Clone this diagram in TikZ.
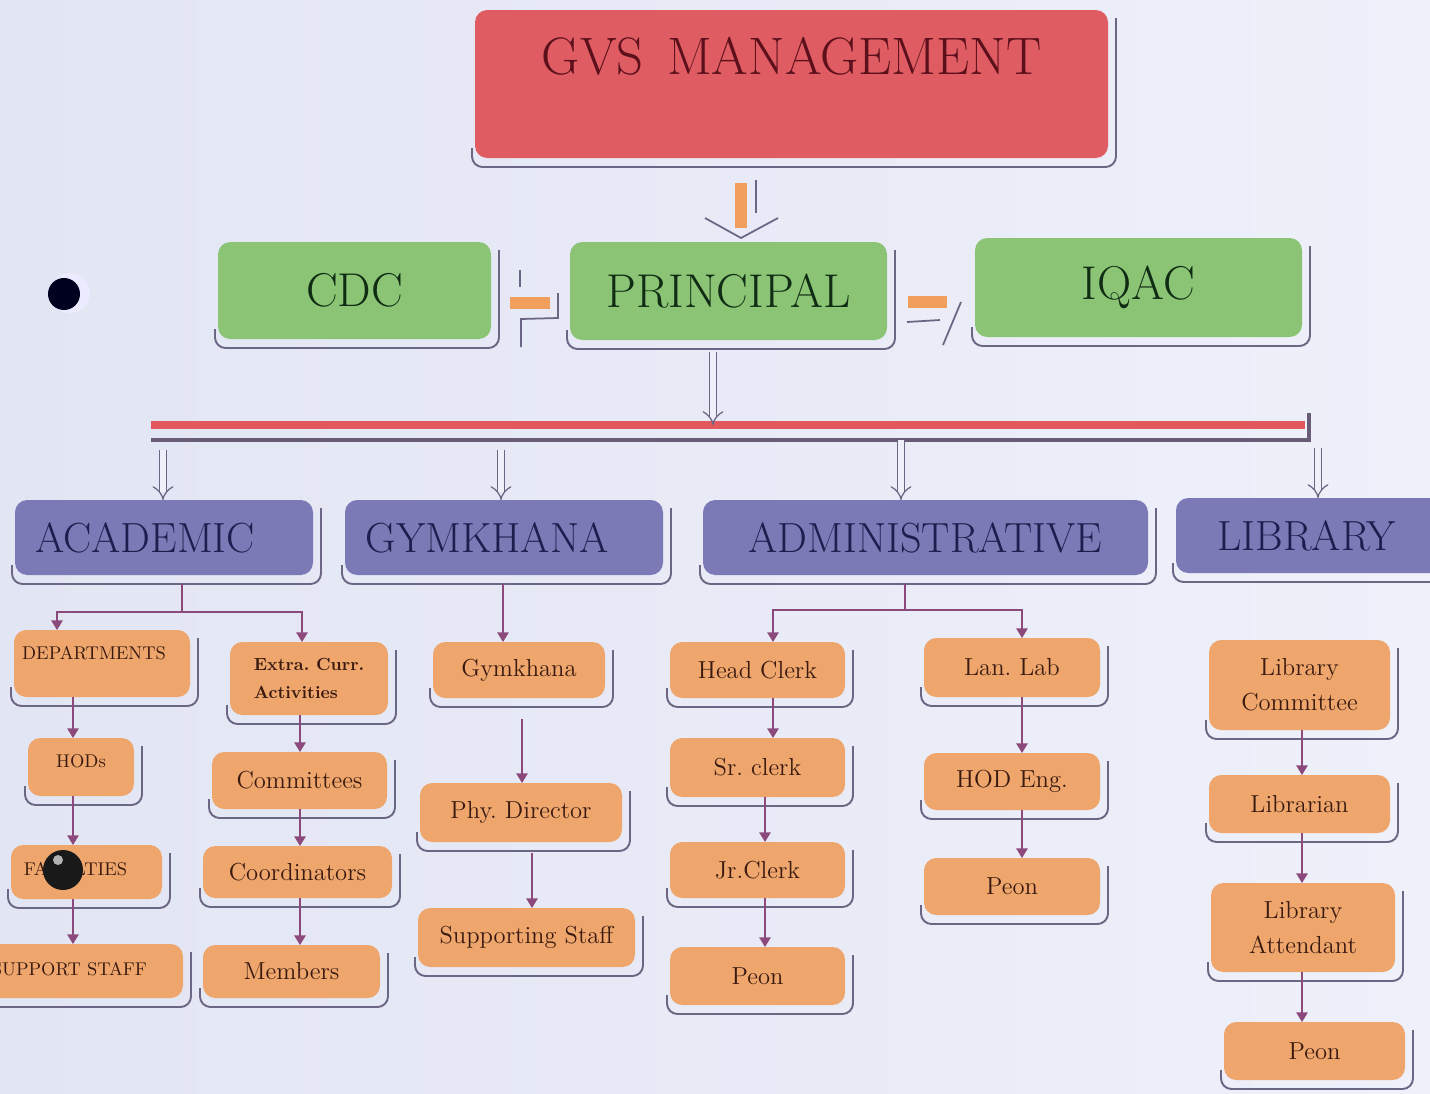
\documentclass[tikz,border=0pt]{standalone}
\usepackage{tikz}
\usetikzlibrary{arrows.meta}

\definecolor{paperL}{RGB}{226,229,243}
\definecolor{paperR}{RGB}{238,240,250}
\definecolor{mgmtred}{RGB}{222,92,98}
\definecolor{mgmttext}{RGB}{92,16,28}
\definecolor{headgreen}{RGB}{138,196,116}
\definecolor{greentext}{RGB}{16,44,20}
\definecolor{wingpurple}{RGB}{124,122,182}
\definecolor{purpletext}{RGB}{28,30,78}
\definecolor{postorange}{RGB}{238,166,108}
\definecolor{orangetext}{RGB}{58,26,16}
\definecolor{rimgray}{RGB}{106,102,132}
\definecolor{linkmauve}{RGB}{140,74,124}
\definecolor{busred}{RGB}{226,88,92}
\definecolor{busgray}{RGB}{104,92,118}
\definecolor{arrorange}{RGB}{240,160,92}

% rim line under and right of a box
\newcommand\rimbox[1]{%
  \draw[rim] ([shift={(-3,-10)}]#1.south west) -- ([shift={(-3,9)}]#1.south west)
    -- ([shift={(8,9)}]#1.south east) -- ([shift={(8,8)}]#1.north east);}

\begin{document}
\frenchspacing
\begin{tikzpicture}[x=0.02cm, y=-0.02cm,
  spanxy/.style n args={4}{minimum width={(#3-(#1))*0.02cm},
    minimum height={(#4-(#2))*0.02cm}, at={({(#1+#3)/2},{(#2+#4)/2})}},
  box/.style={rounded corners=7pt, inner sep=0pt, outer sep=0pt},
  mgmt/.style={box, fill=mgmtred},
  mgmtlabel/.style={text=mgmttext, font=\fontsize{30}{32}\selectfont},
  head/.style={box, fill=headgreen, text=greentext, font=\fontsize{27}{30}\selectfont},
  wing/.style={box, fill=wingpurple, text=purpletext, font=\fontsize{24}{26}\selectfont},
  winglabel/.style={text=purpletext, font=\fontsize{24}{26}\selectfont},
  post/.style={box, fill=postorange, text=orangetext, font=\fontsize{14}{20}\selectfont, align=center},
  postcaps/.style={box, fill=postorange, text=orangetext, font=\fontsize{10.5}{12}\selectfont},
  capslabel/.style={text=orangetext, font=\fontsize{10.5}{12}\selectfont},
  postbold/.style={box, fill=postorange, text=orangetext, font=\fontsize{10}{16}\selectfont\bfseries, align=left},
  rim/.style={draw=rimgray, line width=1.1pt, rounded corners=6pt},
  link/.style={draw=linkmauve, line width=0.9pt, -{Triangle[width=6.5pt,length=5.5pt]}},
  fork/.style={draw=linkmauve, line width=0.9pt},
  drop/.style={draw=rimgray, double=paperR, double distance=3.5pt, line width=0.7pt, -{Implies}},
  fatbar/.style={draw=arrorange, line width=7pt},
  thin/.style={draw=rimgray, line width=1pt}]

\shade[left color=paperL, right color=paperR] (0,0) rectangle (1430,1093);
\useasboundingbox (0,0) rectangle (1430,1093);

% top
\node[mgmt, spanxy={475}{10}{1108}{158},
  label={[mgmtlabel, shift={(0,-28)}]center:GVS\hskip0.45em MANAGEMENT}] (mgmt) {};
\node[head, spanxy={218}{242}{491}{339}] (cdc) {CDC};
\node[head, spanxy={570}{242}{887}{340}] (principal) {PRINCIPAL};
\node[head, spanxy={975}{238}{1302}{337}] (iqac) {IQAC};

% wings
\node[wing, spanxy={15}{500}{313}{575},
  label={[winglabel, shift={(-19,0)}]center:ACADEMIC}] (acad) {};
\node[wing, spanxy={345}{500}{663}{575},
  label={[winglabel, shift={(-17,0)}]center:GYMKHANA}] (gymk) {};
\node[wing, spanxy={703}{500}{1148}{575}] (admin) {ADMINISTRATIVE};
\node[wing, spanxy={1176}{498}{1445}{573},
  label={[winglabel, shift={(-4,0)}]center:LIBRARY}] (lib) {};

% academic
\node[postcaps, spanxy={14}{630}{190}{697},
  label={[capslabel, shift={(-8,-10)}]center:DEPARTMENTS}] (dept) {};
\node[postcaps, spanxy={28}{738}{134}{796},
  label={[capslabel, shift={(0,-6)}]center:HODs}] (hods) {};
\node[postcaps, spanxy={11}{845}{162}{899},
  label={[capslabel, shift={(-11,-3)}]center:FACULTIES}] (fac) {};
\node[postcaps, spanxy={-32}{944}{183}{998},
  label={[capslabel, shift={(-6,-2)}]center:SUPPORT STAFF}] (supp) {};
\node[postbold, spanxy={230}{642}{388}{715}] (extra) {Extra. Curr.\\Activities};
\node[post, spanxy={212}{752}{387}{809}] (comm) {Committees};
\node[post, spanxy={203}{846}{392}{898}] (coord) {Coordinators};
\node[post, spanxy={203}{945}{380}{998}] (memb) {Members};

% gymkhana
\node[post, spanxy={433}{642}{605}{698}] (gym) {Gymkhana};
\node[post, spanxy={420}{783}{622}{842}] (phy) {Phy. Director};
\node[post, spanxy={418}{908}{635}{967}] (supstaff) {Supporting Staff};

% administrative
\node[post, spanxy={670}{642}{845}{698}] (hc) {Head Clerk};
\node[post, spanxy={670}{738}{845}{797}] (sr) {Sr. clerk};
\node[post, spanxy={670}{842}{845}{898}] (jr) {Jr.Clerk};
\node[post, spanxy={670}{947}{845}{1005}] (peonA) {Peon};
\node[post, spanxy={924}{638}{1100}{697}] (lan) {Lan. Lab};
\node[post, spanxy={924}{753}{1100}{810}] (hodeng) {HOD Eng.};
\node[post, spanxy={924}{858}{1100}{915}] (peonB) {Peon};

% library
\node[post, spanxy={1209}{640}{1390}{730}] (libcom) {Library\\Committee};
\node[post, spanxy={1209}{775}{1390}{833}] (librarian) {Librarian};
\node[post, spanxy={1211}{883}{1395}{972}] (libatt) {Library\\Attendant};
\node[post, spanxy={1224}{1022}{1405}{1080}] (peonC) {Peon};

\foreach \n in {mgmt,cdc,principal,iqac,acad,gymk,admin,lib,dept,hods,fac,supp,
  extra,comm,coord,memb,gym,phy,supstaff,hc,sr,jr,peonA,lan,hodeng,peonB,
  libcom,librarian,libatt,peonC}
  \rimbox{\n};

% orange arrows round the principal
\draw[fatbar] (741,183) -- (741,228);
\draw[thin] (756,180) -- (756,213);
\draw[thin] (705,218) -- (741,238) -- (778,218);
\draw[fatbar] (510,303) -- (550,303);
\draw[thin] (520,270) -- (520,287);
\draw[thin] (558,293) -- (558,318) -- (521,319) -- (521,347);
\draw[fatbar] (908,302) -- (947,302);
\draw[thin] (907,322) -- (940,320);
\draw[thin] (943,345) -- (961,302);

% bus
\coordinate (busL) at (151,425);
\coordinate (busR) at (1305,425);
\draw[busred, line width=5pt] (busL) -- (busR);
\draw[busgray, line width=2.2pt] (151,440) -- (1309,440) -- (1309,413);

\coordinate (tapP) at (713,352);
\coordinate (tapA) at (163,450);
\coordinate (tapG) at (501,450);
\coordinate (tapD) at (901,440);
\coordinate (tapL) at (1318,448);
\draw[drop] (tapP) -- (tapP |- busL);
\draw[drop] (tapA) -- (tapA |- acad.north);
\draw[drop] (tapG) -- (tapG |- gymk.north);
\draw[drop] (tapD) -- (tapD |- admin.north);
\draw[drop] (tapL) -- (tapL |- lib.north);

% academic links
\coordinate (forkA) at (182,612);
\coordinate (colD) at (57,0);
\coordinate (colE) at (302,0);
\coordinate (colH) at (73,0);
\coordinate (colC) at (300,0);
\draw[fork] ([yshift=-5pt]forkA |- acad.south) -- (forkA);
\draw[link] (forkA) -| (colD |- dept.north);
\draw[link] (forkA) -| (colE |- extra.north);
\draw[link] (colH |- dept.south) -- (colH |- hods.north);
\draw[link] (colH |- hods.south) -- (colH |- fac.north);
\draw[link] (colH |- fac.south) -- (colH |- supp.north);
\draw[link] (colC |- extra.south) -- (colC |- comm.north);
\draw[link] (colC |- comm.south) -- (colC |- coord.north);
\draw[link] (colC |- coord.south) -- (colC |- memb.north);

% gymkhana links
\coordinate (colG) at (503,0);
\coordinate (colP) at (522,0);
\coordinate (colS) at (532,0);
\draw[link] ([yshift=-5pt]colG |- gymk.south) -- (colG |- gym.north);
\draw[link] ([yshift=-12pt]colP |- gym.south) -- (colP |- phy.north);
\draw[link] ([yshift=-6pt]colS |- phy.south) -- (colS |- supstaff.north);

% administrative links
\coordinate (forkD) at (905,610);
\coordinate (colK) at (773,0);
\coordinate (colJ) at (765,0);
\coordinate (colL) at (1022,0);
\draw[fork] ([yshift=-5pt]forkD |- admin.south) -- (forkD);
\draw[link] (forkD) -| (colK |- hc.north);
\draw[link] (forkD) -| (colL |- lan.north);
\draw[link] (colK |- hc.south) -- (colK |- sr.north);
\draw[link] (colJ |- sr.south) -- (colJ |- jr.north);
\draw[link] (colJ |- jr.south) -- (colJ |- peonA.north);
\draw[link] (colL |- lan.south) -- (colL |- hodeng.north);
\draw[link] (colL |- hodeng.south) -- (colL |- peonB.north);

% library links
\coordinate (colB) at (1302,0);
\draw[link] (colB |- libcom.south) -- (colB |- librarian.north);
\draw[link] (colB |- librarian.south) -- (colB |- libatt.north);
\draw[link] (colB |- libatt.south) -- (colB |- peonC.north);

% pins
\fill[white!92!blue] (70,293) circle (20);
\fill[black!88!blue] (64,294) circle (16);
\fill[black!90] (63,870) circle (20);
\fill[white!70!black] (58,860) circle (5);
\end{tikzpicture}
\end{document}
